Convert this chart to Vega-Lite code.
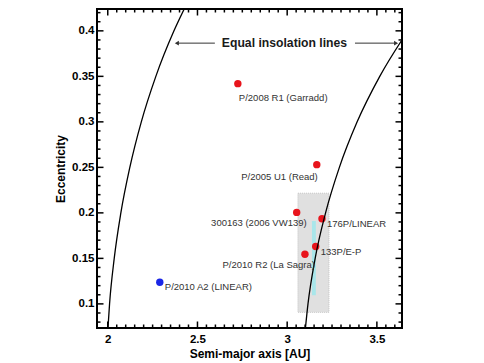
{
  "$schema": "https://vega.github.io/schema/vega-lite/v6.json",
  "width": 305,
  "height": 319,
  "autosize": {"type": "none"},
  "padding": {"left": 97, "top": 9, "right": 82, "bottom": 35},
  "background": "white",
  "datasets": {
    "bodies": [
      {"name": "P/2008 R1 (Garradd)", "a": 2.725, "e": 0.342, "kind": "MBC", "place": "below"},
      {"name": "P/2005 U1 (Read)", "a": 3.165, "e": 0.253, "kind": "MBC", "place": "belowleft"},
      {"name": "300163 (2006 VW139)", "a": 3.053, "e": 0.2005, "kind": "MBC", "place": "left"},
      {"name": "176P/LINEAR", "a": 3.194, "e": 0.1935, "kind": "MBC", "place": "right"},
      {"name": "133P/E-P", "a": 3.159, "e": 0.163, "kind": "MBC", "place": "right"},
      {"name": "P/2010 R2 (La Sagra)", "a": 3.099, "e": 0.1545, "kind": "MBC", "place": "left"},
      {"name": "P/2010 A2 (LINEAR)", "a": 2.29, "e": 0.1238, "kind": "impact", "place": "right"}
    ],
    "curves": [
      {"curve": "inner", "a": 2.000, "e": 0.07},
      {"curve": "inner", "a": 2.010, "e": 0.10},
      {"curve": "inner", "a": 2.036, "e": 0.15},
      {"curve": "inner", "a": 2.073, "e": 0.20},
      {"curve": "inner", "a": 2.123, "e": 0.25},
      {"curve": "inner", "a": 2.187, "e": 0.30},
      {"curve": "inner", "a": 2.268, "e": 0.35},
      {"curve": "inner", "a": 2.369, "e": 0.40},
      {"curve": "inner", "a": 2.441, "e": 0.43},
      {"curve": "outer", "a": 3.100, "e": 0.07},
      {"curve": "outer", "a": 3.116, "e": 0.10},
      {"curve": "outer", "a": 3.156, "e": 0.15},
      {"curve": "outer", "a": 3.214, "e": 0.20},
      {"curve": "outer", "a": 3.291, "e": 0.25},
      {"curve": "outer", "a": 3.390, "e": 0.30},
      {"curve": "outer", "a": 3.516, "e": 0.35},
      {"curve": "outer", "a": 3.673, "e": 0.40}
    ],
    "regions": [
      {"name": "gray", "a1": 3.060, "a2": 3.233, "e1": 0.0907, "e2": 0.2216},
      {"name": "cyan", "a1": 3.138, "a2": 3.160, "e1": 0.1095, "e2": 0.191}
    ],
    "arrows": [
      {"id": "left", "from": 2.597, "to": 2.385, "e": 0.3865},
      {"id": "right", "from": 3.378, "to": 3.607, "e": 0.3865}
    ],
    "note": [
      {"label": "Equal insolation lines", "a": 2.985, "e": 0.3865}
    ],
    "xticks": [
      {"a": 2.0, "tick": "major"}, {"a": 2.5, "tick": "major"}, {"a": 3.0, "tick": "major"}, {"a": 3.5, "tick": "major"},
      {"a": 2.05, "tick": "minor"}, {"a": 2.1, "tick": "minor"}, {"a": 2.15, "tick": "minor"}, {"a": 2.2, "tick": "minor"},
      {"a": 2.25, "tick": "minor"}, {"a": 2.3, "tick": "minor"}, {"a": 2.35, "tick": "minor"}, {"a": 2.4, "tick": "minor"},
      {"a": 2.45, "tick": "minor"}, {"a": 2.55, "tick": "minor"}, {"a": 2.6, "tick": "minor"}, {"a": 2.65, "tick": "minor"},
      {"a": 2.7, "tick": "minor"}, {"a": 2.75, "tick": "minor"}, {"a": 2.8, "tick": "minor"}, {"a": 2.85, "tick": "minor"},
      {"a": 2.9, "tick": "minor"}, {"a": 2.95, "tick": "minor"}, {"a": 3.05, "tick": "minor"}, {"a": 3.1, "tick": "minor"},
      {"a": 3.15, "tick": "minor"}, {"a": 3.2, "tick": "minor"}, {"a": 3.25, "tick": "minor"}, {"a": 3.3, "tick": "minor"},
      {"a": 3.35, "tick": "minor"}, {"a": 3.4, "tick": "minor"}, {"a": 3.45, "tick": "minor"}, {"a": 3.55, "tick": "minor"},
      {"a": 3.6, "tick": "minor"}
    ],
    "yticks": [
      {"e": 0.1, "tick": "major"}, {"e": 0.15, "tick": "major"}, {"e": 0.2, "tick": "major"}, {"e": 0.25, "tick": "major"},
      {"e": 0.3, "tick": "major"}, {"e": 0.35, "tick": "major"}, {"e": 0.4, "tick": "major"},
      {"e": 0.08, "tick": "minor"}, {"e": 0.09, "tick": "minor"}, {"e": 0.11, "tick": "minor"}, {"e": 0.12, "tick": "minor"},
      {"e": 0.13, "tick": "minor"}, {"e": 0.14, "tick": "minor"}, {"e": 0.16, "tick": "minor"}, {"e": 0.17, "tick": "minor"},
      {"e": 0.18, "tick": "minor"}, {"e": 0.19, "tick": "minor"}, {"e": 0.21, "tick": "minor"}, {"e": 0.22, "tick": "minor"},
      {"e": 0.23, "tick": "minor"}, {"e": 0.24, "tick": "minor"}, {"e": 0.26, "tick": "minor"}, {"e": 0.27, "tick": "minor"},
      {"e": 0.28, "tick": "minor"}, {"e": 0.29, "tick": "minor"}, {"e": 0.31, "tick": "minor"}, {"e": 0.32, "tick": "minor"},
      {"e": 0.33, "tick": "minor"}, {"e": 0.34, "tick": "minor"}, {"e": 0.36, "tick": "minor"}, {"e": 0.37, "tick": "minor"},
      {"e": 0.38, "tick": "minor"}, {"e": 0.39, "tick": "minor"}, {"e": 0.41, "tick": "minor"}, {"e": 0.42, "tick": "minor"}
    ]
  },
  "layer": [
    {
      "data": {"name": "regions"},
      "transform": [{"filter": "datum.name === 'gray'"}],
      "mark": {"type": "rect", "fill": "#e0e0e0", "stroke": "#c4c4c4", "strokeWidth": 1, "strokeDash": [1, 1]},
      "encoding": {
        "x": {"field": "a1", "type": "quantitative", "scale": {"domain": [1.94, 3.64], "nice": false, "zero": false},
          "axis": {"orient": "bottom", "title": "Semi-major axis [AU]", "tickCount": 4, "format": "~g", "tickSize": 0, "labelPadding": 5, "titlePadding": 4}},
        "x2": {"field": "a2"},
        "y": {"field": "e1", "type": "quantitative", "scale": {"domain": [0.0735, 0.424], "nice": false, "zero": false},
          "axis": {"orient": "left", "title": "Eccentricity", "tickCount": 7, "format": "~g", "tickSize": 0, "labelPadding": 3, "titlePadding": 4}},
        "y2": {"field": "e2"}
      }
    },
    {
      "data": {"name": "regions"},
      "transform": [{"filter": "datum.name === 'cyan'"}],
      "mark": {"type": "rect", "fill": "#a9e6ea"},
      "encoding": {
        "x": {"field": "a1", "type": "quantitative", "scale": {"domain": [1.94, 3.64], "nice": false, "zero": false}, "axis": null},
        "x2": {"field": "a2"},
        "y": {"field": "e1", "type": "quantitative", "scale": {"domain": [0.0735, 0.424], "nice": false, "zero": false}, "axis": null},
        "y2": {"field": "e2"}
      }
    },
    {
      "data": {"name": "xticks"},
      "mark": {"type": "tick", "orient": "vertical", "color": "black", "thickness": 1.5, "clip": true, "opacity": 1},
      "encoding": {
        "x": {"field": "a", "type": "quantitative", "scale": {"domain": [1.94, 3.64], "nice": false, "zero": false}, "axis": null},
        "y": {"datum": 0.0735, "type": "quantitative", "scale": {"domain": [0.0735, 0.424], "nice": false, "zero": false}, "axis": null},
        "size": {"field": "tick", "type": "ordinal", "scale": {"domain": ["major", "minor"], "range": [13, 7]}, "legend": null}
      }
    },
    {
      "data": {"name": "xticks"},
      "mark": {"type": "tick", "orient": "vertical", "color": "black", "thickness": 1.5, "clip": true, "opacity": 1},
      "encoding": {
        "x": {"field": "a", "type": "quantitative", "scale": {"domain": [1.94, 3.64], "nice": false, "zero": false}, "axis": null},
        "y": {"datum": 0.424, "type": "quantitative", "scale": {"domain": [0.0735, 0.424], "nice": false, "zero": false}, "axis": null},
        "size": {"field": "tick", "type": "ordinal", "scale": {"domain": ["major", "minor"], "range": [13, 7]}, "legend": null}
      }
    },
    {
      "data": {"name": "yticks"},
      "mark": {"type": "tick", "orient": "horizontal", "color": "black", "thickness": 1.5, "clip": true, "opacity": 1},
      "encoding": {
        "y": {"field": "e", "type": "quantitative", "scale": {"domain": [0.0735, 0.424], "nice": false, "zero": false}, "axis": null},
        "x": {"datum": 1.94, "type": "quantitative", "scale": {"domain": [1.94, 3.64], "nice": false, "zero": false}, "axis": null},
        "size": {"field": "tick", "type": "ordinal", "scale": {"domain": ["major", "minor"], "range": [13, 7]}, "legend": null}
      }
    },
    {
      "data": {"name": "yticks"},
      "mark": {"type": "tick", "orient": "horizontal", "color": "black", "thickness": 1.5, "clip": true, "opacity": 1},
      "encoding": {
        "y": {"field": "e", "type": "quantitative", "scale": {"domain": [0.0735, 0.424], "nice": false, "zero": false}, "axis": null},
        "x": {"datum": 3.64, "type": "quantitative", "scale": {"domain": [1.94, 3.64], "nice": false, "zero": false}, "axis": null},
        "size": {"field": "tick", "type": "ordinal", "scale": {"domain": ["major", "minor"], "range": [13, 7]}, "legend": null}
      }
    },
    {
      "data": {"name": "bodies"},
      "mark": {"type": "circle", "size": 55, "opacity": 1},
      "encoding": {
        "x": {"field": "a", "type": "quantitative", "scale": {"domain": [1.94, 3.64], "nice": false, "zero": false}, "axis": null},
        "y": {"field": "e", "type": "quantitative", "scale": {"domain": [0.0735, 0.424], "nice": false, "zero": false}, "axis": null},
        "color": {"field": "kind", "type": "nominal", "scale": {"domain": ["MBC", "impact"], "range": ["#e8141c", "#1a26e6"]}, "legend": null}
      }
    },
    {
      "data": {"name": "curves"},
      "mark": {"type": "line", "color": "black", "strokeWidth": 1.3, "clip": true, "interpolate": "monotone"},
      "encoding": {
        "x": {"field": "a", "type": "quantitative", "scale": {"domain": [1.94, 3.64], "nice": false, "zero": false}, "axis": null},
        "y": {"field": "e", "type": "quantitative", "scale": {"domain": [0.0735, 0.424], "nice": false, "zero": false}, "axis": null},
        "detail": {"field": "curve", "type": "nominal"},
        "order": {"field": "e", "type": "quantitative"}
      }
    },
    {
      "data": {"name": "bodies"},
      "transform": [{"filter": "datum.place === 'below'"}],
      "mark": {"type": "text", "align": "left", "baseline": "middle", "dx": 1, "dy": 14, "fontSize": 9.5, "color": "#333333", "font": "Liberation Sans"},
      "encoding": {
        "x": {"field": "a", "type": "quantitative", "scale": {"domain": [1.94, 3.64], "nice": false, "zero": false}, "axis": null},
        "y": {"field": "e", "type": "quantitative", "scale": {"domain": [0.0735, 0.424], "nice": false, "zero": false}, "axis": null},
        "text": {"field": "name"}
      }
    },
    {
      "data": {"name": "bodies"},
      "transform": [{"filter": "datum.place === 'belowleft'"}],
      "mark": {"type": "text", "align": "right", "baseline": "middle", "dx": 1, "dy": 12, "fontSize": 9.5, "color": "#333333", "font": "Liberation Sans"},
      "encoding": {
        "x": {"field": "a", "type": "quantitative", "scale": {"domain": [1.94, 3.64], "nice": false, "zero": false}, "axis": null},
        "y": {"field": "e", "type": "quantitative", "scale": {"domain": [0.0735, 0.424], "nice": false, "zero": false}, "axis": null},
        "text": {"field": "name"}
      }
    },
    {
      "data": {"name": "bodies"},
      "transform": [{"filter": "datum.place === 'left'"}],
      "mark": {"type": "text", "align": "right", "baseline": "middle", "dx": 10, "dy": 11, "fontSize": 9.5, "color": "#333333", "font": "Liberation Sans"},
      "encoding": {
        "x": {"field": "a", "type": "quantitative", "scale": {"domain": [1.94, 3.64], "nice": false, "zero": false}, "axis": null},
        "y": {"field": "e", "type": "quantitative", "scale": {"domain": [0.0735, 0.424], "nice": false, "zero": false}, "axis": null},
        "text": {"field": "name"}
      }
    },
    {
      "data": {"name": "bodies"},
      "transform": [{"filter": "datum.place === 'right'"}],
      "mark": {"type": "text", "align": "left", "baseline": "middle", "dx": 5, "dy": 5, "fontSize": 9.5, "color": "#333333", "font": "Liberation Sans"},
      "encoding": {
        "x": {"field": "a", "type": "quantitative", "scale": {"domain": [1.94, 3.64], "nice": false, "zero": false}, "axis": null},
        "y": {"field": "e", "type": "quantitative", "scale": {"domain": [0.0735, 0.424], "nice": false, "zero": false}, "axis": null},
        "text": {"field": "name"}
      }
    },
    {
      "data": {"name": "arrows"},
      "mark": {"type": "rule", "color": "#333333", "strokeWidth": 1},
      "encoding": {
        "x": {"field": "from", "type": "quantitative", "scale": {"domain": [1.94, 3.64], "nice": false, "zero": false}, "axis": null},
        "x2": {"field": "to"},
        "y": {"field": "e", "type": "quantitative", "scale": {"domain": [0.0735, 0.424], "nice": false, "zero": false}, "axis": null}
      }
    },
    {
      "data": {"name": "arrows"},
      "mark": {"type": "point", "filled": true, "size": 22, "color": "#333333", "opacity": 1},
      "encoding": {
        "x": {"field": "to", "type": "quantitative", "scale": {"domain": [1.94, 3.64], "nice": false, "zero": false}, "axis": null},
        "y": {"field": "e", "type": "quantitative", "scale": {"domain": [0.0735, 0.424], "nice": false, "zero": false}, "axis": null},
        "shape": {"field": "id", "type": "nominal", "scale": {"domain": ["left", "right"], "range": ["triangle-left", "triangle-right"]}, "legend": null}
      }
    },
    {
      "data": {"name": "note"},
      "mark": {"type": "text", "align": "center", "baseline": "middle", "fontSize": 12.2, "fontWeight": "bold", "color": "#1a1a1a", "font": "Liberation Sans"},
      "encoding": {
        "x": {"field": "a", "type": "quantitative", "scale": {"domain": [1.94, 3.64], "nice": false, "zero": false}, "axis": null},
        "y": {"field": "e", "type": "quantitative", "scale": {"domain": [0.0735, 0.424], "nice": false, "zero": false}, "axis": null},
        "text": {"field": "label"}
      }
    }
  ],
  "resolve": {"axis": {"x": "independent", "y": "independent"}, "scale": {"size": "independent"}},
  "config": {
    "view": {"stroke": "black", "strokeWidth": 2},
    "axis": {
      "domain": false,
      "grid": false,
      "labelFont": "Liberation Sans",
      "labelFontWeight": "bold",
      "labelFontSize": 11.5,
      "labelColor": "black",
      "titleFont": "Liberation Sans",
      "titleFontWeight": "bold",
      "titleFontSize": 12,
      "titleColor": "black"
    },
    "text": {"font": "Liberation Sans"}
  }
}
